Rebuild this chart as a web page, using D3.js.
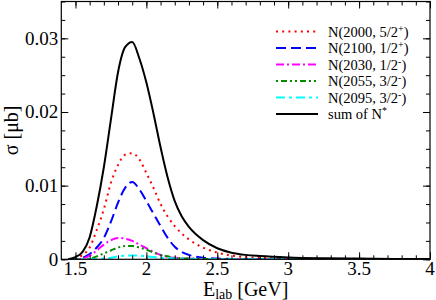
<!DOCTYPE html>
<html>
<head>
<meta charset="utf-8">
<script src="https://cdn.jsdelivr.net/npm/d3@7"></script>
<style>
  body { margin: 0; background: #fff; }
  text { font-family: "Liberation Serif", "Times New Roman", "DejaVu Serif", serif; }
</style>
</head>
<body>
<div id="chart"></div>
<script>
// beam energy grid (GeV)
const energy = [1.45, 1.5, 1.55, 1.6, 1.65, 1.7, 1.75, 1.8, 1.85, 1.9, 1.95, 2.0, 2.05, 2.1,
  2.15, 2.2, 2.25, 2.3, 2.4, 2.5, 2.6, 2.7, 2.8, 3.0, 3.25, 3.5, 3.75, 4.0];

// cross sections (microbarn)
const n2000 = [0, 0.0001, 0.0006, 0.0016, 0.0040, 0.0068, 0.0104, 0.0128, 0.0142, 0.0144, 0.0136, 0.0117, 0.0097, 0.0075,
  0.0058, 0.0045, 0.0035, 0.0027, 0.0016, 0.0009, 0.0005, 0.0003, 0.0002, 0.0001, 0.00005, 0.00003, 0.00002, 0.00001];
const n2100 = [0, 0, 0.0002, 0.0007, 0.0016, 0.0029, 0.0051, 0.0077, 0.0097, 0.0105, 0.0095, 0.0079, 0.0062, 0.0045,
  0.0029, 0.0017, 0.0010, 0.0006, 0.0002, 0.0001, 0.00005, 0, 0, 0, 0, 0, 0, 0];
const n2030 = [0, 0, 0.0001, 0.0005, 0.0012, 0.0020, 0.0026, 0.0029, 0.0028, 0.0025, 0.0020, 0.0015, 0.0010, 0.0006,
  0.0003, 0.0002, 0.00015, 0.0001, 0.00005, 0, 0, 0, 0, 0, 0, 0, 0, 0];
const n2055 = [0, 0, 0, 0.0001, 0.0004, 0.0008, 0.0012, 0.0016, 0.0018, 0.0018, 0.0016, 0.0013, 0.0009, 0.0006,
  0.0004, 0.0002, 0.00015, 0.0001, 0.00005, 0, 0, 0, 0, 0, 0, 0, 0, 0];
const n2095 = [0, 0, 0, 0, 0.00005, 0.0001, 0.0002, 0.0004, 0.0005, 0.0005, 0.0005, 0.0004, 0.0003, 0.0002,
  0.00015, 0.0001, 0.00007, 0.00005, 0, 0, 0, 0, 0, 0, 0, 0, 0, 0];
const nSum = [0, 0.0003, 0.0010, 0.0030, 0.0072, 0.0125, 0.0190, 0.0254, 0.0288, 0.0295, 0.0273, 0.0240, 0.0198, 0.0152,
  0.0111, 0.0079, 0.0058, 0.0044, 0.0026, 0.0015, 0.0009, 0.0006, 0.00045, 0.00026, 0.00015, 0.0001, 0.00005, 0.00003];

const xTicks = [1.5, 2, 2.5, 3, 3.5, 4];
const yTicks = [0, 0.01, 0.02, 0.03];

const series = [
  { name: "N(2000, 5/2", sup: "+", values: n2000, color: "#ff0000", dash: "2,4.2" },
  { name: "N(2100, 1/2", sup: "+", values: n2100, color: "#0000ff", dash: "10,5" },
  { name: "N(2030, 1/2", sup: "-", values: n2030, color: "#ff00ff", dash: "8,3,2,3" },
  { name: "N(2055, 3/2", sup: "-", values: n2055, color: "#008b00", dash: "2,3,6,3,2,3" },
  { name: "N(2095, 3/2", sup: "-", values: n2095, color: "#00ffff", dash: "9,4,3,4" },
  { name: "sum of N", sup: "*", values: nSum, color: "#000000", dash: null }
];

const W = 436, H = 300;
const margin = { top: 1.5, right: 6, bottom: 40.7, left: 61.3 };
const width = W - margin.left - margin.right;
const height = H - margin.top - margin.bottom;

const svg = d3.select("#chart").append("svg")
  .attr("width", W).attr("height", H);

const g = svg.append("g")
  .attr("transform", `translate(${margin.left},${margin.top})`);

const x = d3.scaleLinear().domain([1.4, 4]).range([0, width]);
const y = d3.scaleLinear().domain([0, 0.035]).range([height, 0]);

g.append("clipPath").attr("id", "clip")
  .append("rect").attr("width", width).attr("height", height);

// curves
const line = d3.line()
  .x((d, i) => x(energy[i]))
  .y(d => y(d))
  .curve(d3.curveMonotoneX);

g.append("g").attr("clip-path", "url(#clip)")
  .selectAll("path")
  .data(series)
  .join("path")
  .attr("d", d => line(d.values))
  .attr("fill", "none")
  .attr("stroke", d => d.color)
  .attr("stroke-width", 2)
  .attr("stroke-dasharray", d => d.dash);

// inward ticks on every side
const xMinor = d3.range(15, 41).map(v => v / 10);
const yMinor = d3.range(0, 15).map(v => v * 0.0025);

function tickAxis(axis, scale, minor, major) {
  const a = axis(scale).tickSizeInner(-4).tickSizeOuter(0).tickValues(minor).tickFormat("");
  const b = axis(scale).tickSizeInner(-7).tickSizeOuter(0).tickValues(major).tickFormat("");
  return [a, b];
}

[[d3.axisBottom, x, xMinor, xTicks, `translate(0,${height})`],
 [d3.axisTop, x, xMinor, xTicks, "translate(0,0)"],
 [d3.axisLeft, y, yMinor, yTicks, "translate(0,0)"],
 [d3.axisRight, y, yMinor, yTicks, `translate(${width},0)`]].forEach(([ax, sc, mi, ma, tr]) => {
  tickAxis(ax, sc, mi, ma).forEach(a => {
    const s = g.append("g").attr("transform", tr).call(a);
    s.select(".domain").remove();
    s.selectAll("line").attr("stroke", "#000").attr("stroke-width", 1);
  });
});

g.append("rect")
  .attr("width", width).attr("height", height)
  .attr("fill", "none").attr("stroke", "#000").attr("stroke-width", 1.2);

// tick labels
g.selectAll("text.xl").data(xTicks).join("text")
  .attr("class", "xl")
  .attr("x", d => x(d)).attr("y", height + 16)
  .attr("text-anchor", "middle")
  .attr("font-size", 19)
  .text(d => d3.format("")(d));

g.selectAll("text.yl").data(yTicks).join("text")
  .attr("class", "yl")
  .attr("x", -3).attr("y", d => y(d) + 6.5)
  .attr("text-anchor", "end")
  .attr("font-size", 19)
  .text(d => d === 0 ? "0" : d3.format(".2f")(d));

// axis titles
const xt = svg.append("text")
  .attr("x", margin.left + width / 2).attr("y", 295.5)
  .attr("text-anchor", "middle")
  .attr("font-size", 20);
xt.append("tspan").text("E");
xt.append("tspan").attr("font-size", 14).attr("dy", 3).text("lab");
xt.append("tspan").attr("dy", -3).text(" [GeV]");

svg.append("text")
  .attr("transform", `translate(18,${margin.top + height / 2}) rotate(-90)`)
  .attr("text-anchor", "middle")
  .attr("font-size", 20)
  .text("σ [μb]");

// legend
const legend = svg.append("g").attr("transform", "translate(276,31.5)");
const rows = legend.selectAll("g").data(series).join("g")
  .attr("transform", (d, i) => `translate(0,${i * 16.5})`);

rows.append("line")
  .attr("x1", 0).attr("x2", 42)
  .attr("stroke", d => d.color)
  .attr("stroke-width", 2)
  .attr("stroke-dasharray", d => d.dash);

const lt = rows.append("text")
  .attr("x", 52).attr("y", 5)
  .attr("font-size", 14.5);
lt.append("tspan").text(d => d.name);
lt.append("tspan").attr("font-size", 10).attr("dy", -5).text(d => d.sup);
lt.append("tspan").attr("dy", 5).text(d => d.sup === "*" ? "" : ")");
</script>
</body>
</html>
